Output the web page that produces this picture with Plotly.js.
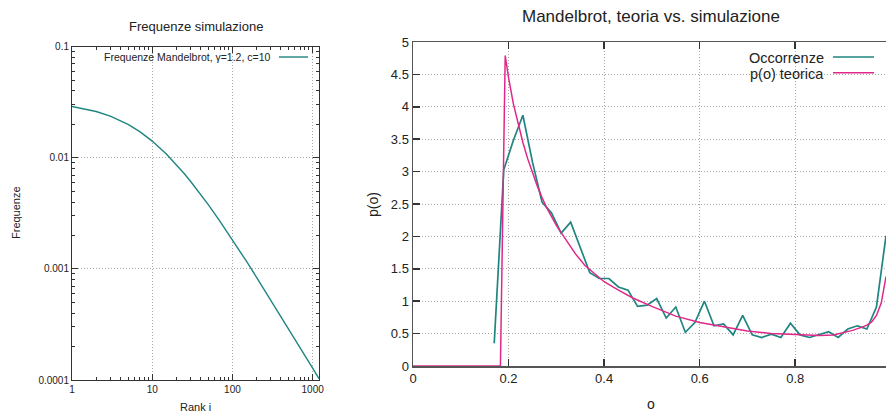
<!DOCTYPE html>
<html>
<head>
<meta charset="utf-8">
<script src="https://cdn.plot.ly/plotly-3.0.1.min.js"></script>
<style>
html,body{margin:0;padding:0;background:#fff;}
#chart{width:888px;height:414px;}
</style>
</head>
<body>
<div id="chart"></div>
<script>
// ---- Left chart: Mandelbrot frequencies vs rank (log-log) ----
const rankValues = [1, 2, 3, 5, 7, 10, 15, 20, 25, 30, 40, 50, 70, 100, 150, 200, 300, 500, 700, 1000, 1200];
const freqValues = [0.02898, 0.02611, 0.02372, 0.01997, 0.01719, 0.01414, 0.01082, 0.00869, 0.007228, 0.00615,
                    0.004711, 0.003784, 0.002679, 0.001829, 0.001167, 0.000841, 0.000527, 0.000290, 0.000195,
                    0.0001279, 0.0001029];
const leftXTicks = [1, 10, 100, 1000];
const leftXTickText = ['1', '10', '100', '1000'];
const leftYTicks = [0.0001, 0.001, 0.01, 0.1];
const leftYTickText = ['0.0001', '0.001', '0.01', '0.1'];

// ---- Right chart: simulated occurrences vs theory ----
const occX = [0.17, 0.19, 0.21, 0.23, 0.25, 0.27, 0.29, 0.31, 0.33, 0.35, 0.37, 0.39, 0.41, 0.43, 0.45, 0.47,
              0.49, 0.51, 0.53, 0.55, 0.57, 0.59, 0.61, 0.63, 0.65, 0.67, 0.69, 0.71, 0.73, 0.75, 0.77, 0.79,
              0.81, 0.83, 0.85, 0.87, 0.89, 0.91, 0.93, 0.95, 0.97, 0.99];
const occY = [0.35, 3.03, 3.48, 3.87, 3.15, 2.53, 2.36, 2.05, 2.22, 1.82, 1.44, 1.35, 1.35, 1.22, 1.17, 0.92,
              0.94, 1.04, 0.74, 0.91, 0.52, 0.67, 1.00, 0.62, 0.65, 0.48, 0.78, 0.48, 0.44, 0.49, 0.44, 0.66,
              0.48, 0.44, 0.49, 0.53, 0.44, 0.57, 0.62, 0.57, 0.91, 2.01];
const theoX = [0, 0.183, 0.193, 0.20, 0.21, 0.22, 0.23, 0.24, 0.25, 0.26, 0.27, 0.28, 0.30, 0.32, 0.34, 0.36,
               0.38, 0.40, 0.43, 0.46, 0.50, 0.55, 0.60, 0.65, 0.70, 0.75, 0.80, 0.85, 0.88, 0.90, 0.92, 0.94,
               0.95, 0.96, 0.97, 0.98, 0.99];
const theoY = [0, 0, 4.79, 4.45, 4.05, 3.74, 3.45, 3.20, 2.98, 2.78, 2.60, 2.44, 2.17, 1.95, 1.73, 1.55,
               1.42, 1.30, 1.17, 1.05, 0.92, 0.77, 0.67, 0.60, 0.54, 0.50, 0.48, 0.47, 0.48, 0.51, 0.55, 0.60,
               0.63, 0.68, 0.78, 0.97, 1.38];
const rightXTicks = [0, 0.2, 0.4, 0.6, 0.8];
const rightXTickText = ['0', '0.2', '0.4', '0.6', '0.8'];
const rightYTicks = [0, 0.5, 1, 1.5, 2, 2.5, 3, 3.5, 4, 4.5, 5];
const rightYTickText = ['0', '0.5', '1', '1.5', '2', '2.5', '3', '3.5', '4', '4.5', '5'];

const seriesNames = ['Frequenze Mandelbrot, γ=1.2, c=10', 'Occorrenze', 'p(o) teorica'];
const titles = ['Frequenze simulazione', 'Mandelbrot, teoria vs. simulazione'];

// ---- styling ----
const W = 888, H = 414;
const FONT = 'Liberation Sans, Arial, sans-serif';
const TEAL = '#1f8580';
const PINK = '#e0288a';
const GRID = '#a8a8a8';
const px = x => x / W;
const py = y => 1 - y / H;

const minorLog = [];
for (let d = 1; d <= 1000; d *= 10) for (let k = 2; k <= 9; k++) minorLog.push(d * k);
const minorLogY = [];
for (let d = 0.0001; d < 0.1; d *= 10) for (let k = 2; k <= 9; k++) minorLogY.push(d * k);

const traces = [
  {x: rankValues, y: freqValues, xaxis: 'x', yaxis: 'y', mode: 'lines',
   line: {color: TEAL, width: 1.4}, name: seriesNames[0], showlegend: false},
  {x: occX, y: occY, xaxis: 'x2', yaxis: 'y2', mode: 'lines',
   line: {color: TEAL, width: 1.7}, name: seriesNames[1], showlegend: false},
  {x: theoX, y: theoY, xaxis: 'x2', yaxis: 'y2', mode: 'lines',
   line: {color: PINK, width: 1.5}, name: seriesNames[2], showlegend: false}
];

const leftAxisCommon = {
  showline: true, linecolor: '#333', linewidth: 1, mirror: 'ticks',
  ticks: 'inside', ticklen: 6, tickcolor: '#333', tickwidth: 1,
  showgrid: true, gridcolor: GRID, griddash: '1px,2px', gridwidth: 1,
  zeroline: false, automargin: false,
  tickfont: {family: FONT, size: 10, color: '#222'}
};
const rightAxisCommon = {
  showline: true, linecolor: '#555', linewidth: 1.5,
  ticks: 'inside', ticklen: 7, tickcolor: '#333', tickwidth: 1.5,
  showgrid: true, gridcolor: GRID, griddash: '1px,2px', gridwidth: 1,
  zeroline: false, automargin: false,
  tickfont: {family: FONT, size: 13, color: '#222'}
};

const layout = {
  width: W, height: H,
  margin: {l: 0, r: 0, t: 0, b: 0, pad: 0},
  paper_bgcolor: '#fff', plot_bgcolor: '#fff',
  showlegend: false,
  xaxis: Object.assign({}, leftAxisCommon, {
    type: 'log', range: [0, Math.log10(1200)], domain: [px(72), px(319)], anchor: 'y',
    tickmode: 'array', tickvals: leftXTicks, ticktext: leftXTickText,
    minor: {tickmode: 'array', tickvals: minorLog, ticks: 'inside', ticklen: 3, tickcolor: '#333', showgrid: false}
  }),
  yaxis: Object.assign({}, leftAxisCommon, {
    type: 'log', range: [-4, -1], domain: [py(380), py(46.7)], anchor: 'x',
    tickmode: 'array', tickvals: leftYTicks, ticktext: leftYTickText,
    minor: {tickmode: 'array', tickvals: minorLogY, ticks: 'inside', ticklen: 3, tickcolor: '#333', showgrid: false}
  }),
  xaxis2: Object.assign({}, rightAxisCommon, {
    range: [0, 0.99], domain: [px(413), px(886)], anchor: 'y2', mirror: 'ticks',
    tickmode: 'array', tickvals: rightXTicks, ticktext: rightXTickText
  }),
  yaxis2: Object.assign({}, rightAxisCommon, {
    range: [0, 5], domain: [py(366), py(42)], anchor: 'x2', mirror: false,
    tickmode: 'array', tickvals: rightYTicks, ticktext: rightYTickText
  }),
  yaxis3: {
    overlaying: 'y2', anchor: 'x2', side: 'right', range: [0, 5], automargin: false,
    showline: false, showgrid: false, zeroline: false, showticklabels: false,
    ticks: 'inside', ticklen: 7, tickcolor: '#333', tickwidth: 1.5,
    tickmode: 'array', tickvals: rightYTicks
  },
  annotations: [
    {text: titles[0], xref: 'paper', yref: 'paper', x: px(195.5), y: py(26), showarrow: false,
     xanchor: 'center', yanchor: 'middle', font: {family: FONT, size: 13, color: '#222'}},
    {text: titles[1], xref: 'paper', yref: 'paper', x: px(651), y: py(17), showarrow: false,
     xanchor: 'center', yanchor: 'middle', font: {family: FONT, size: 17, color: '#222'}},
    {text: 'Rank i', xref: 'paper', yref: 'paper', x: px(195.5), y: py(407), showarrow: false,
     xanchor: 'center', yanchor: 'middle', font: {family: FONT, size: 11, color: '#222'}},
    {text: 'Frequenze', xref: 'paper', yref: 'paper', x: px(16), y: py(213), showarrow: false, textangle: -90,
     xanchor: 'center', yanchor: 'middle', font: {family: FONT, size: 11, color: '#222'}},
    {text: 'p(o)', xref: 'paper', yref: 'paper', x: px(373), y: py(205), showarrow: false, textangle: -90,
     xanchor: 'center', yanchor: 'middle', font: {family: FONT, size: 14, color: '#222'}},
    {text: 'o', xref: 'paper', yref: 'paper', x: px(651), y: py(404), showarrow: false,
     xanchor: 'center', yanchor: 'middle', font: {family: FONT, size: 14, color: '#222'}},
    {text: seriesNames[0], xref: 'paper', yref: 'paper', x: px(273), y: py(57), showarrow: false,
     xanchor: 'right', yanchor: 'middle', font: {family: FONT, size: 10.5, color: '#222'}},
    {text: seriesNames[1], xref: 'paper', yref: 'paper', x: px(826), y: py(58), showarrow: false,
     xanchor: 'right', yanchor: 'middle', font: {family: FONT, size: 14.5, color: '#222'}},
    {text: seriesNames[2], xref: 'paper', yref: 'paper', x: px(826), y: py(73.5), showarrow: false,
     xanchor: 'right', yanchor: 'middle', font: {family: FONT, size: 14.5, color: '#222'}}
  ],
  shapes: [
    {type: 'line', xref: 'paper', yref: 'paper', x0: px(279), x1: px(308), y0: py(57), y1: py(57),
     line: {color: TEAL, width: 1.4}},
    {type: 'line', xref: 'paper', yref: 'paper', x0: px(833), x1: px(874), y0: py(57), y1: py(57),
     line: {color: TEAL, width: 1.7}},
    {type: 'line', xref: 'paper', yref: 'paper', x0: px(833), x1: px(874), y0: py(72.7), y1: py(72.7),
     line: {color: PINK, width: 1.5}}
  ]
};

Plotly.newPlot('chart', traces, layout, {displayModeBar: false, staticPlot: true});
</script>
</body>
</html>
